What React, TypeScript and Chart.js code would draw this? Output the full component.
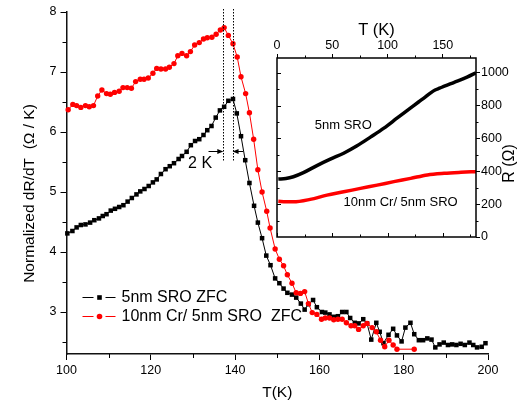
import React, { useEffect, useRef } from 'react';
import { Chart, registerables } from 'chart.js';

Chart.register(...registerables);

const FONT = "'Liberation Sans', Arial, Helvetica, sans-serif";

// ---- main panel data ----
const blackT = [100.2, 101.4, 102.4, 103.4, 104.5, 105.6, 106.6, 107.7, 108.6, 109.5, 110.5, 111.5, 112.5, 113.5, 114.5, 115.5, 116.6, 117.5, 118.5, 119.5, 120.5, 121.4, 122.4, 123.5, 124.5, 125.5, 126.6, 127.4, 128.5, 129.5, 130.5, 131.5, 132.5, 133.4, 134.4, 135.4, 136.4, 137.4, 138.4, 139.5, 140.4, 141.4, 142.4, 143.4, 144.5, 145.4, 146.4, 147.4, 148.4, 149.5, 150.5, 151.5, 152.4, 153.5, 154.5, 155.6, 156.5, 157.4, 158.5, 159.4, 160.6, 161.4, 162.4, 163.4, 164.4, 165.4, 166.4, 167.3, 168.4, 169.3, 170.4, 171.3, 172.3, 173.5, 174.3, 175.2, 176.4, 177.5, 178.4, 179.5, 180.4, 181.6, 182.5, 183.6, 184.6, 185.6, 186.6, 187.5, 188.5, 189.5, 190.5, 191.5, 192.5, 193.5, 194.5, 195.6, 196.5, 197.4, 198.5, 199.4];
const blackV = [4.31, 4.35, 4.41, 4.45, 4.46, 4.49, 4.53, 4.56, 4.60, 4.63, 4.69, 4.72, 4.75, 4.78, 4.84, 4.90, 4.96, 5.01, 5.05, 5.10, 5.16, 5.21, 5.30, 5.38, 5.43, 5.48, 5.55, 5.60, 5.67, 5.78, 5.85, 5.88, 5.95, 6.03, 6.10, 6.24, 6.36, 6.42, 6.52, 6.55, 6.31, 5.93, 5.53, 5.15, 4.77, 4.49, 4.23, 3.94, 3.78, 3.56, 3.48, 3.39, 3.32, 3.29, 3.24, 3.14, 3.04, 3.13, 3.20, 3.08, 3.00, 2.99, 2.96, 2.92, 2.93, 3.00, 3.00, 2.90, 2.82, 2.81, 2.88, 2.81, 2.54, 2.82, 2.67, 2.48, 2.62, 2.72, 2.61, 2.51, 2.74, 2.82, 2.63, 2.53, 2.53, 2.56, 2.54, 2.41, 2.46, 2.49, 2.45, 2.46, 2.45, 2.47, 2.45, 2.49, 2.45, 2.41, 2.42, 2.48];

const redT = [100.4, 101.5, 102.4, 103.4, 104.5, 105.4, 106.4, 107.4, 108.4, 109.5, 110.4, 111.4, 112.5, 113.4, 114.4, 115.4, 116.4, 117.5, 118.4, 119.4, 120.5, 121.4, 122.4, 123.5, 124.4, 125.5, 126.4, 127.4, 128.5, 129.4, 130.4, 131.5, 132.5, 133.4, 134.5, 135.5, 136.5, 137.4, 138.4, 139.5, 140.5, 141.4, 142.5, 143.4, 144.4, 145.4, 146.4, 147.5, 148.3, 149.5, 150.5, 151.5, 152.4, 153.5, 154.5, 155.5, 156.5, 157.4, 158.3, 159.4, 160.5, 161.4, 162.4, 163.4, 164.4, 165.4, 166.4, 167.5, 168.4, 169.3, 170.4, 171.3, 172.5, 173.5, 174.5, 175.5, 176.5, 177.5, 178.4, 182.5];
const redV = [6.37, 6.46, 6.44, 6.41, 6.44, 6.42, 6.44, 6.60, 6.70, 6.64, 6.63, 6.66, 6.68, 6.74, 6.74, 6.73, 6.84, 6.88, 6.88, 6.90, 6.98, 7.06, 7.05, 7.05, 7.08, 7.14, 7.27, 7.31, 7.27, 7.34, 7.45, 7.49, 7.55, 7.57, 7.58, 7.63, 7.70, 7.74, 7.61, 7.47, 7.25, 6.92, 6.64, 6.32, 5.88, 5.37, 5.00, 4.68, 4.40, 4.05, 3.88, 3.77, 3.62, 3.48, 3.32, 3.31, 3.34, 3.14, 2.99, 2.96, 2.88, 2.90, 2.90, 2.87, 2.88, 2.88, 2.82, 2.77, 2.77, 2.71, 2.77, 2.81, 2.74, 2.67, 2.53, 2.42, 2.53, 2.45, 2.38, 2.38];

const seriesNames = ['5nm SRO ZFC', '10nm Cr/ 5nm SRO  ZFC'];
const seriesColors = ['#000000', '#ff0000'];
const mainXTitle = 'T(K)';
const mainYTitle = 'Normalized dR/dT  (\u03A9 / K)';
const xRange = [100, 200];
const yRange = [2.3, 8];

// annotation: dotted lines marking the two peaks, arrows and label
const peakT = [137.2, 139.4];
const peakLineBottom = 5.52;
const arrowStartT = [133.7, 141.9];
const arrowV = 5.68;
const gapLabel = '2 K';
const gapLabelPos = [131.7, 5.47];

// ---- inset data ----
const insetBlackT = [1.2, 8, 14.8, 23.9, 36.1, 48.2, 60.3, 72.4, 84.5, 96.7, 108.8, 120.9, 128, 134, 139, 143, 147, 152, 160.3, 172.4, 180];
const insetBlackR = [353, 356, 367, 392, 435, 474, 510, 555, 608, 663, 725, 786, 822, 852, 878, 895, 906, 920, 942, 975, 1000];
const insetRedT = [1.2, 8, 14.8, 30, 45.2, 60.3, 75.5, 90.6, 105.7, 120.9, 136, 151.2, 166.4, 180];
const insetRedR = [218, 214, 214, 229, 255, 275, 296, 316, 337, 357, 378, 388, 394, 398];
const insetLabels = ['5nm SRO', '10nm Cr/ 5nm SRO'];
const insetLabelT = [60, 111.8];
const insetLabelR = [677, 212];
const insetXTitle = 'T (K)';
const insetYTitle = 'R (\u03A9)';
const insetXRange = [0, 180];
const insetYRange = [0, 1090];

const toPts = (xs: number[], ys: number[]) => xs.map((x, i) => ({ x, y: ys[i] }));
const plain = (v: number | string) => String(v);

function drawArrow(ctx: CanvasRenderingContext2D, x1: number, x2: number, y: number) {
  const dir = x2 > x1 ? 1 : -1;
  ctx.beginPath();
  ctx.moveTo(x1, y);
  ctx.lineTo(x2 - dir * 4, y);
  ctx.stroke();
  ctx.beginPath();
  ctx.moveTo(x2, y);
  ctx.lineTo(x2 - dir * 6, y - 2.5);
  ctx.lineTo(x2 - dir * 6, y + 2.5);
  ctx.closePath();
  ctx.fill();
}

const mainDecor = {
  id: 'mainDecor',
  afterDraw(chart: any) {
    const { ctx, chartArea: a, scales } = chart;
    const x = scales.x;
    const y = scales.y;
    ctx.save();
    ctx.strokeStyle = '#000';
    ctx.fillStyle = '#000';
    ctx.lineWidth = 1;
    // minor ticks
    for (let t = xRange[0] + 10; t < xRange[1]; t += 20) {
      const px = Math.round(x.getPixelForValue(t)) + 0.5;
      ctx.beginPath();
      ctx.moveTo(px, a.bottom);
      ctx.lineTo(px, a.bottom + 4);
      ctx.stroke();
    }
    for (let v = 2.5; v < yRange[1]; v += 1) {
      const py = Math.round(y.getPixelForValue(v)) + 0.5;
      ctx.beginPath();
      ctx.moveTo(a.left, py);
      ctx.lineTo(a.left - 4, py);
      ctx.stroke();
    }
    // dotted peak markers
    ctx.setLineDash([1.5, 1.5]);
    for (const t of peakT) {
      const px = Math.round(x.getPixelForValue(t)) + 0.5;
      ctx.beginPath();
      ctx.moveTo(px, a.top - 3);
      ctx.lineTo(px, y.getPixelForValue(peakLineBottom));
      ctx.stroke();
    }
    ctx.setLineDash([]);
    const ay = Math.round(y.getPixelForValue(arrowV)) + 0.5;
    for (let i = 0; i < 2; i++) {
      drawArrow(ctx, x.getPixelForValue(arrowStartT[i]), x.getPixelForValue(peakT[i]), ay);
    }
    ctx.font = `16px ${FONT}`;
    ctx.textAlign = 'center';
    ctx.textBaseline = 'middle';
    ctx.fillText(gapLabel, x.getPixelForValue(gapLabelPos[0]), y.getPixelForValue(gapLabelPos[1]));

    // legend
    const rows = [a.bottom - 57, a.bottom - 38];
    for (let i = 0; i < 2; i++) {
      const ry = Math.round(rows[i]) + 0.5;
      const lx = a.left + 16;
      ctx.strokeStyle = seriesColors[i];
      ctx.fillStyle = seriesColors[i];
      ctx.lineWidth = 1;
      ctx.beginPath();
      ctx.moveTo(lx, ry);
      ctx.lineTo(lx + 11, ry);
      ctx.moveTo(lx + 23, ry);
      ctx.lineTo(lx + 33, ry);
      ctx.stroke();
      const mx = lx + 17;
      if (i === 0) {
        ctx.fillRect(mx - 2.3, ry - 2.3, 4.6, 4.6);
      } else {
        ctx.beginPath();
        ctx.arc(mx, ry, 2.8, 0, Math.PI * 2);
        ctx.fill();
      }
      ctx.fillStyle = '#000';
      ctx.font = `16px ${FONT}`;
      ctx.textAlign = 'left';
      ctx.textBaseline = 'middle';
      ctx.fillText(seriesNames[i], lx + 39, ry + 0.5);
    }

    // y-axis title
    ctx.fillStyle = '#000';
    ctx.font = `15.5px ${FONT}`;
    ctx.textAlign = 'center';
    ctx.textBaseline = 'middle';
    ctx.translate(30, (a.top + a.bottom) / 2 + 10.5);
    ctx.rotate(-Math.PI / 2);
    ctx.fillText(mainYTitle, 0, 0);
    ctx.restore();
  },
};

const insetDecor = {
  id: 'insetDecor',
  afterDraw(chart: any) {
    const { ctx, chartArea: a, scales } = chart;
    const x = scales.x;
    const y = scales.y;
    ctx.save();
    ctx.strokeStyle = '#000';
    ctx.fillStyle = '#000';
    ctx.lineWidth = 1.5;
    ctx.strokeRect(a.left, a.top, a.right - a.left, a.bottom - a.top);
    ctx.lineWidth = 1;
    for (let t = 0; t < insetXRange[1]; t += 25) {
      const px = Math.round(x.getPixelForValue(t)) + 0.5;
      const major = t % 50 === 0;
      ctx.beginPath();
      ctx.moveTo(px, a.bottom);
      ctx.lineTo(px, a.bottom - (major ? 4 : 2.5));
      if (!major) {
        ctx.moveTo(px, a.top);
        ctx.lineTo(px, a.top - 2.5);
      }
      ctx.stroke();
    }
    for (let r = 100; r < insetYRange[1]; r += 100) {
      const py = Math.round(y.getPixelForValue(r)) + 0.5;
      const major = r % 200 === 0;
      ctx.beginPath();
      ctx.moveTo(a.left, py);
      ctx.lineTo(a.left + (major ? 4 : 2.5), py);
      if (!major) {
        ctx.moveTo(a.right, py);
        ctx.lineTo(a.right + 2.5, py);
      }
      ctx.stroke();
    }
    ctx.font = `13px ${FONT}`;
    ctx.textAlign = 'center';
    ctx.textBaseline = 'middle';
    for (let i = 0; i < insetLabels.length; i++) {
      ctx.fillText(insetLabels[i], x.getPixelForValue(insetLabelT[i]), y.getPixelForValue(insetLabelR[i]));
    }
    ctx.font = `16px ${FONT}`;
    ctx.translate(a.right + 34, (a.top + a.bottom) / 2 + 16);
    ctx.rotate(-Math.PI / 2);
    ctx.fillText(insetYTitle, 0, 0);
    ctx.restore();
  },
};

export default function App() {
  const mainRef = useRef<HTMLCanvasElement | null>(null);
  const insetRef = useRef<HTMLCanvasElement | null>(null);

  useEffect(() => {
    const tickFont = { family: FONT, size: 12.5 };
    const main = new Chart(mainRef.current as HTMLCanvasElement, {
      type: 'line',
      data: {
        datasets: [
          {
            label: seriesNames[0],
            data: toPts(blackT, blackV),
            borderColor: seriesColors[0],
            backgroundColor: seriesColors[0],
            borderWidth: 1,
            pointStyle: 'rect',
            pointRadius: 3.2,
            pointBorderWidth: 0,
            clip: false,
            order: 1,
          },
          {
            label: seriesNames[1],
            data: toPts(redT, redV),
            borderColor: seriesColors[1],
            backgroundColor: seriesColors[1],
            borderWidth: 1,
            pointStyle: 'circle',
            pointRadius: 2.7,
            pointBorderWidth: 0,
            clip: false,
            order: 0,
          },
        ],
      },
      options: {
        animation: false,
        responsive: false,
        devicePixelRatio: 1,
        layout: { padding: { left: 0, right: 34, top: 12, bottom: 0 } },
        plugins: { legend: { display: false }, tooltip: { enabled: false } },
        scales: {
          x: {
            type: 'linear',
            position: 'bottom',
            min: xRange[0],
            max: xRange[1],
            ticks: { stepSize: 20, font: tickFont, color: '#000', padding: 3, maxRotation: 0, callback: plain },
            grid: { drawOnChartArea: false, drawTicks: true, tickLength: 6, tickColor: '#000', tickWidth: 1 },
            border: { display: true, color: '#111', width: 1.5 },
            title: { display: true, text: mainXTitle, font: { family: FONT, size: 15.5 }, color: '#000', padding: { top: 0, bottom: 3 } },
            afterFit: (s: any) => { s.height = 51; },
          },
          y: {
            type: 'linear',
            position: 'left',
            min: yRange[0],
            max: yRange[1],
            ticks: { stepSize: 1, includeBounds: false, font: tickFont, color: '#000', padding: 4, callback: plain },
            grid: { drawOnChartArea: false, drawTicks: true, tickLength: 6, tickColor: '#000', tickWidth: 1 },
            border: { display: true, color: '#111', width: 1.5 },
            afterFit: (s: any) => { s.width = 66.5; },
          },
        },
      },
      plugins: [mainDecor],
    } as any);

    const inset = new Chart(insetRef.current as HTMLCanvasElement, {
      type: 'line',
      data: {
        datasets: [
          {
            label: insetLabels[0],
            data: toPts(insetBlackT, insetBlackR),
            borderColor: '#000',
            borderWidth: 3.5,
            pointRadius: 0,
            cubicInterpolationMode: 'monotone',
          },
          {
            label: insetLabels[1],
            data: toPts(insetRedT, insetRedR),
            borderColor: '#ff0000',
            borderWidth: 3.5,
            pointRadius: 0,
            cubicInterpolationMode: 'monotone',
          },
        ],
      },
      options: {
        animation: false,
        responsive: false,
        devicePixelRatio: 1,
        layout: { padding: { left: 17, right: 0, top: 0, bottom: 13 } },
        plugins: { legend: { display: false }, tooltip: { enabled: false } },
        scales: {
          x: {
            type: 'linear',
            position: 'top',
            min: insetXRange[0],
            max: insetXRange[1],
            ticks: { stepSize: 50, includeBounds: false, font: tickFont, color: '#000', padding: 1, maxRotation: 0, callback: plain },
            grid: { drawOnChartArea: false, drawTicks: true, tickLength: 4, tickColor: '#000' },
            border: { display: false },
            title: { display: true, text: insetXTitle, font: { family: FONT, size: 16.5 }, color: '#000', padding: { top: 21, bottom: 0 } },
            afterFit: (s: any) => { s.height = 58; },
          },
          y: {
            type: 'linear',
            position: 'right',
            min: insetYRange[0],
            max: insetYRange[1],
            ticks: { stepSize: 200, includeBounds: false, font: tickFont, color: '#000', padding: 1, callback: plain },
            grid: { drawOnChartArea: false, drawTicks: true, tickLength: 4, tickColor: '#000' },
            border: { display: false },
            afterFit: (s: any) => { s.width = 46; },
          },
        },
      },
      plugins: [insetDecor],
    } as any);

    return () => {
      main.destroy();
      inset.destroy();
    };
  }, []);

  return (
    <div style={{ position: 'absolute', left: 0, top: 0, width: 522, height: 405, background: '#fff' }}>
      <canvas ref={mainRef} width={522} height={405} style={{ position: 'absolute', left: 0, top: 0, display: 'block' }} />
      <canvas ref={insetRef} width={262} height={250} style={{ position: 'absolute', left: 260, top: 0, display: 'block' }} />
    </div>
  );
}
